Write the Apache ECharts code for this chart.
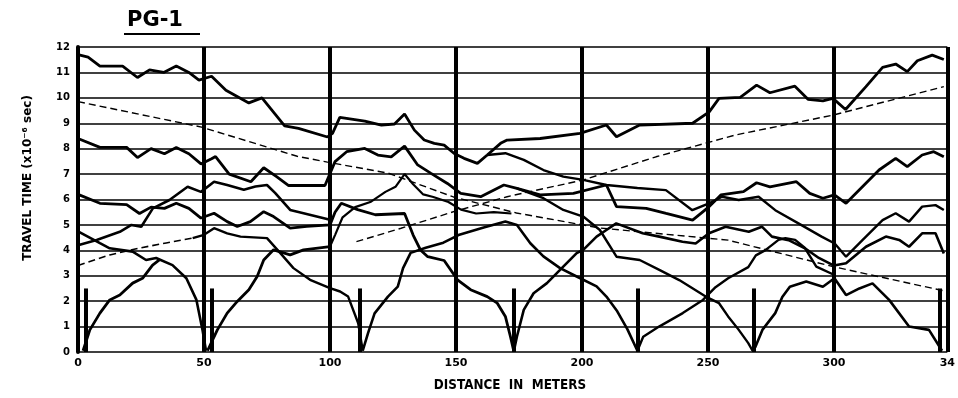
<!DOCTYPE html>
<html>
<head>
<meta charset="utf-8">
<script src="https://cdn.jsdelivr.net/npm/echarts@6/dist/echarts.min.js"></script>
<style>
  html, body { margin: 0; padding: 0; background: #fff; }
  #chart { width: 958px; height: 398px; }
</style>
</head>
<body>
<div id="chart"></div>
<script>
// shot points (m) and the height of their marker bars
const SHOTS = [3, 53, 112, 173, 222, 268, 342];
const SHOT_MARK = 2.5;
const X_TICKS = [0, 50, 100, 150, 200, 250, 300, 345];
const X_END = 345;

// travel time picks, [distance m, time x10^-6 s]
const LINE_A = [[0,11.7],[4,11.6],[8.7,11.25],[17.7,11.25],[23.6,10.8],[28.4,11.1],[34,11.0],[39,11.25],[44,11.0],[48,10.7],[53,10.85],[58.7,10.3],[67.8,9.8],[73,10.0],[82,8.9],[87.5,8.8],[99,8.46],[101,8.6],[103.9,9.23],[113.8,9.08],[120.4,8.93],[125.6,8.97],[129.6,9.36],[133.5,8.73],[137.4,8.34],[141.4,8.21],[145.3,8.14],[149.3,7.81],[153.2,7.62],[158.5,7.42],[162.4,7.75],[167.7,8.21],[170.3,8.34],[183.4,8.4],[199.2,8.6],[209.7,8.93],[213.7,8.47],[222.9,8.93],[243.9,9.0],[250.5,9.45],[254.4,9.98],[262.8,10.02],[269.3,10.5],[274.6,10.2],[284.5,10.46],[289.7,9.94],[295.6,9.88],[299.6,9.98],[304.6,9.54],[312.7,10.44],[319.3,11.2],[324.5,11.33],[329.1,11.03],[333.1,11.46],[339,11.68],[343.6,11.51]];
const LINE_B = [[0,8.4],[8.7,8.05],[19.3,8.05],[23.6,7.65],[29,8.0],[34.3,7.8],[39,8.05],[44,7.8],[48.8,7.4],[53,7.6],[54.6,7.69],[60,7.0],[68.6,6.7],[73.7,7.25],[78.8,6.9],[83.6,6.55],[98,6.55],[102,7.49],[106.6,7.88],[113.8,8.01],[119,7.75],[124.3,7.68],[129.6,8.1],[134.8,7.36],[140.1,7.03],[146.6,6.63],[151.9,6.24],[159.8,6.11],[169,6.57],[174.2,6.44],[183.4,6.18],[196.6,6.24],[209.7,6.57],[213.7,5.72],[225.5,5.65],[233.4,5.45],[243.9,5.19],[250.5,5.72],[255.1,6.18],[264.1,6.31],[269.3,6.66],[274.6,6.5],[285.1,6.7],[290.4,6.24],[295.6,6.05],[300.2,6.18],[304.8,5.85],[317.9,7.16],[324.5,7.62],[329.1,7.29],[335,7.75],[339.6,7.88],[343.6,7.68]];
const LINE_C = [[0,6.2],[8.7,5.85],[19.3,5.8],[24.4,5.45],[29,5.7],[34.3,5.65],[39,5.85],[44,5.65],[48.8,5.27],[54,5.46],[59.2,5.13],[63.2,4.94],[68.4,5.13],[73.7,5.52],[77.6,5.33],[84.2,4.87],[90.8,4.94],[100,5.0],[102,5.5],[104.5,5.85],[111,5.6],[118,5.4],[129.6,5.45],[133,4.6],[136,4.0],[138.8,3.75],[145.3,3.6],[150.6,2.84],[155.8,2.45],[162.4,2.18],[166.4,1.92],[169.6,1.4],[171.6,0.61],[172.9,0.05]];
const LINE_E = [[0,4.2],[7.4,4.41],[16.6,4.73],[21.2,5.0],[25.1,4.93],[29.7,5.65],[36.3,5.98],[43.5,6.5],[48.8,6.3],[54,6.7],[59.2,6.57],[65.8,6.38],[70.4,6.51],[75,6.57],[78.3,6.25],[84.2,5.59],[89.5,5.46],[100,5.2]];
const BRANCH_G = [[162.4,7.75],[169.6,7.82],[176.9,7.56],[184.7,7.16],[192.6,6.9],[200.5,6.77],[209.7,6.57],[222,6.45],[233.3,6.37],[243.8,5.58],[250.4,5.85],[255.6,6.11],[262.2,5.98],[270.1,6.11],[276.7,5.58],[285.9,5.06],[295.1,4.54],[300.3,4.27],[304.8,3.75],[311.4,4.41],[319.3,5.19],[324.5,5.46],[329.8,5.13],[335,5.72],[340.3,5.78],[343.6,5.59]];
const BRANCH_H = [[100,4.15],[102,4.6],[105,5.3],[110,5.7],[116,5.9],[122,6.3],[126,6.5],[129.6,7.0],[133,6.6],[137,6.2],[141,6.1],[147,5.9],[152,5.6],[158,5.45],[165,5.5],[172,5.45]];
const BRANCH_I = [[174.2,6.44],[184.7,6.05],[192.6,5.59],[200.5,5.33],[207.1,4.8],[213.7,3.75],[222.9,3.62],[230.7,3.23],[238.6,2.83],[249.1,2.18],[254.4,1.92],[258,1.4],[262,0.9],[266,0.35],[267.7,0.05]];
const REV_53 = [[0,4.75],[8.7,4.28],[12.6,4.08],[21.7,3.95],[27,3.62],[31,3.7],[37.5,3.42],[43,2.9],[47,2.05],[49.4,0.87],[50.8,0.05]];
const FWD_3 = [[2,0.05],[4.7,0.87],[8.7,1.53],[12.6,2.05],[16.6,2.24],[21.7,2.71],[25.6,2.9],[29.6,3.42],[32.3,3.62]];
const FWD_53 = [[51.4,0.05],[55.3,0.87],[59.2,1.53],[63.2,1.99],[67.8,2.45],[71.1,2.97],[73.7,3.62],[77.6,4.02],[84.2,3.82],[89.5,4.02],[100,4.15]];
const REV_112 = [[45.5,4.48],[50,4.61],[54,4.87],[59.2,4.67],[64.5,4.54],[75,4.48],[80.3,3.89],[85.5,3.3],[92.1,2.84],[100,2.51],[104,2.38],[107.2,2.18],[111.2,1.13],[113,0.05]];
const FWD_112 = [[113,0.05],[115.1,0.74],[117.7,1.52],[123,2.18],[126.9,2.57],[129,3.3],[132,3.9],[138,4.1],[145,4.3],[151,4.6],[161,4.9],[169.6,5.13],[174.2,5.0],[179.5,4.28],[184.7,3.76],[191.3,3.3],[197.9,2.97],[205.8,2.58],[209.7,2.18],[214,1.6],[218,0.9],[222,0.05]];
const FWD_173 = [[173,0.05],[174.2,0.61],[176.9,1.66],[180.8,2.31],[186.1,2.71],[191.3,3.23],[197.9,3.89],[200.5,4.02],[205.8,4.54],[209.7,4.8],[213.6,5.06],[224.1,4.67],[230.7,4.54],[239.9,4.34],[245.1,4.27],[250.4,4.67],[257,4.93],[266.2,4.73],[271.4,4.93],[275.4,4.54],[282,4.4],[288.5,4.08],[294,3.7],[300,3.4],[304.8,3.49],[312.7,4.14],[320.6,4.54],[325.9,4.41],[329.8,4.14],[335,4.67],[340.3,4.67],[343.6,3.88]];
const FWD_222 = [[222,0.05],[224.3,0.6],[230.6,1.0],[240,1.53],[248,2.05],[253,2.55],[258,2.9],[266,3.34],[269,3.8],[272.8,4.01],[278,4.41],[280.7,4.48],[284.6,4.41],[288.5,4.09],[293,3.36],[300.2,3.03]];
const FWD_268 = [[267.7,0.05],[268.8,0.2],[271.6,0.87],[276.7,1.53],[279.5,2.16],[282.5,2.57],[289,2.77],[295.6,2.57],[300.2,2.9],[304.8,2.24],[310.1,2.5],[315.3,2.7],[321.9,2.05],[329.8,1.0],[337.7,0.87],[342.9,0.05]];
const DASH_DOWN = [[0,9.85],[49,8.85],[87,7.7],[99,7.47],[123,7.04],[149,6.1],[174,5.47],[207,4.88],[258,4.4],[300,3.35],[344,2.4]];
const DASH_UP_0 = [[0,3.4],[12.6,3.82],[24.4,4.09],[35,4.29],[45.5,4.48]];
const DASH_UP_112 = [[110.5,4.34],[128.2,4.87],[150,5.55],[170.3,6.11],[200.5,6.77],[229.4,7.68],[261,8.54],[299.6,9.32],[343.6,10.44]];

const FONT = 'DejaVu Sans';

function curve(data, width, dashed) {
  return {
    type: 'line',
    data: data,
    showSymbol: false,
    silent: true,
    z: 3,
    lineStyle: { color: '#000', width: width, type: dashed ? [7, 4] : 'solid' }
  };
}

const series = [
  curve(LINE_A, 2.8), curve(LINE_B, 2.8), curve(LINE_C, 2.8), curve(LINE_E, 2.6),
  curve(BRANCH_G, 2.4), curve(BRANCH_H, 2.2), curve(BRANCH_I, 2.4),
  curve(REV_53, 2.6), curve(FWD_3, 2.8), curve(FWD_53, 2.8), curve(REV_112, 2.4),
  curve(FWD_112, 2.6), curve(FWD_173, 2.6), curve(FWD_222, 2.4), curve(FWD_268, 2.6),
  curve(DASH_DOWN, 1.4, true), curve(DASH_UP_0, 1.6, true), curve(DASH_UP_112, 1.4, true)
];

// shot point markers and the right-hand frame line
series.push({
  type: 'line',
  data: [],
  markLine: {
    silent: true,
    symbol: 'none',
    label: { show: false },
    lineStyle: { color: '#000', width: 4, type: 'solid' },
    data: SHOTS.map(s => [{ coord: [s, 0] }, { coord: [s, SHOT_MARK] }])
      .concat([[{ coord: [X_END, 0] }, { coord: [X_END, 12] }]])
  }
});

const chart = echarts.init(document.getElementById('chart'));
chart.setOption({
  animation: false,
  backgroundColor: '#fff',
  grid: { left: 78, right: 7, top: 47, bottom: 46, show: false },
  xAxis: {
    type: 'value',
    min: 0, max: X_END, interval: 50,
    axisLine: { show: false },
    axisTick: { show: false },
    splitLine: { show: true, lineStyle: { color: '#000', width: 4 } },
    axisLabel: {
      color: '#000', fontFamily: FONT, fontWeight: 'bold', fontSize: 11, margin: 6,
      customValues: X_TICKS,
      formatter: v => (v === X_END ? '34' : String(v))
    }
  },
  yAxis: {
    type: 'value',
    min: 0, max: 12, interval: 1,
    axisLine: { show: true, lineStyle: { color: '#000', width: 4 } },
    axisTick: { show: false },
    splitLine: { show: true, lineStyle: { color: '#000', width: 1.6 } },
    axisLabel: { color: '#000', fontFamily: FONT, fontWeight: 'bold', fontSize: 10, margin: 8 }
  },
  graphic: [
    {
      type: 'text', left: 127, top: 10,
      style: { text: 'PG-1', font: 'bold 21px "DejaVu Sans"', fill: '#000' }
    },
    {
      type: 'line', shape: { x1: 124, y1: 34, x2: 200, y2: 34 },
      style: { stroke: '#000', lineWidth: 2 }
    },
    {
      type: 'text', x: 28, y: 178, rotation: Math.PI / 2,
      style: {
        text: 'TRAVEL TIME (x10⁻⁶ sec)', font: 'bold 12px "DejaVu Sans"', fill: '#000',
        align: 'center', verticalAlign: 'middle'
      }
    },
    {
      type: 'text', x: 510, y: 385, scaleY: 1.2,
      style: {
        text: 'DISTANCE  IN  METERS', font: 'bold 12px "DejaVu Sans"', fill: '#000',
        align: 'center', verticalAlign: 'middle'
      }
    }
  ],
  series: series
});
</script>
</body>
</html>
